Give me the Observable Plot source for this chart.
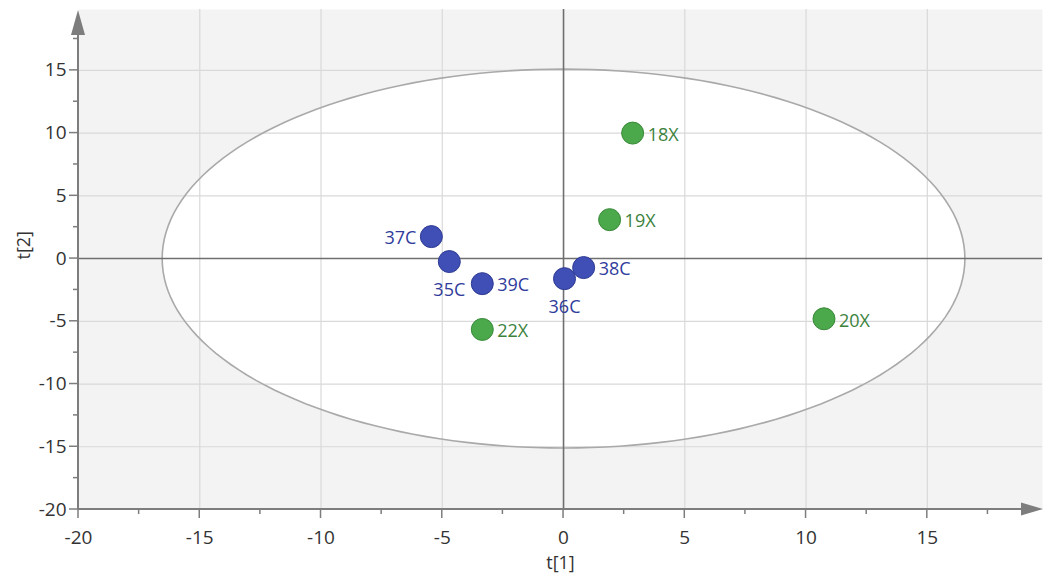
<!DOCTYPE html>
<html>
<head>
<meta charset="utf-8">
<script src="https://cdn.jsdelivr.net/npm/d3@7"></script>
<script src="https://cdn.jsdelivr.net/npm/@observablehq/plot@0.6"></script>
<style>
  html, body { margin: 0; padding: 0; background: #ffffff; }
  #chart svg { display: block; }
</style>
</head>
<body>
<div id="chart"></div>
<script>
// ---- data ----
const names = ["18X", "19X", "20X", "22X", "35C", "36C", "37C", "38C", "39C"];
const t1    = [2.85, 1.90, 10.74, -3.35, -4.71, 0.04, -5.45, 0.83, -3.35];
const t2    = [10.0, 3.10, -4.80, -5.65, -0.24, -1.60, 1.75, -0.72, -2.00];
const group = ["X", "X", "X", "X", "C", "C", "C", "C", "C"];
const xTicks = [-20, -15, -10, -5, 0, 5, 10, 15];
const yTicks = [-20, -15, -10, -5, 0, 5, 10, 15];
const xMinor = [-17.5, -12.5, -7.5, -2.5, 2.5, 7.5, 12.5, 17.5];
const yMinor = [-17.5, -12.5, -7.5, -2.5, 2.5, 7.5, 12.5, 17.5];
// Hotelling T2 ellipse semi-axes
const ellipseRx = 16.55;
const ellipseRy = 15.1;

// ---- styling / layout ----
const fillColor = {C: "#3f4fb6", X: "#4ba84b"};
const strokeColor = {C: "#2e3a92", X: "#3a8a3a"};
const textColor = {C: "#303c9c", X: "#3c823d"};
const labelSide = {"37C": "left", "35C": "below", "36C": "below"};
const FONT = "'Open Sans', 'Noto Sans', sans-serif";

const points = names.map((n, i) => ({name: n, t1: t1[i], t2: t2[i], group: group[i], side: labelSide[n] || "right"}));
const ellipse = d3.range(0, 361, 2).map(a => {
  const r = a * Math.PI / 180;
  return {x: ellipseRx * Math.cos(r), y: ellipseRy * Math.sin(r)};
});

function axesDecor(...args) {
  const scales = args.find(a => a && typeof a.x === "function" && typeof a.y === "function");
  const dims = args.find(a => a && typeof a.marginLeft === "number");
  const g = d3.create("svg:g");
  const x0 = dims.marginLeft, y0 = dims.height - dims.marginBottom;
  const col = "#7d7d7d";
  // axis lines
  g.append("line").attr("x1", x0).attr("x2", x0).attr("y1", y0).attr("y2", 33).attr("stroke", col).attr("stroke-width", 2);
  g.append("line").attr("x1", x0).attr("x2", dims.width - 20).attr("y1", y0).attr("y2", y0).attr("stroke", col).attr("stroke-width", 2);
  // arrows
  g.append("path").attr("d", `M${x0},10 L${x0 - 7},35 L${x0 + 7},35 Z`).attr("fill", col);
  g.append("path").attr("d", `M${dims.width},${y0} L${dims.width - 22},${y0 - 6.5} L${dims.width - 22},${y0 + 6.5} Z`).attr("fill", col);
  // ticks
  for (const v of xTicks) g.append("line").attr("x1", scales.x(v)).attr("x2", scales.x(v)).attr("y1", y0).attr("y2", y0 + 9).attr("stroke", col).attr("stroke-width", 1.5);
  for (const v of xMinor) g.append("line").attr("x1", scales.x(v)).attr("x2", scales.x(v)).attr("y1", y0).attr("y2", y0 + 5).attr("stroke", col).attr("stroke-width", 1.5);
  for (const v of yTicks) g.append("line").attr("y1", scales.y(v)).attr("y2", scales.y(v)).attr("x1", x0).attr("x2", x0 - 9).attr("stroke", col).attr("stroke-width", 1.5);
  for (const v of yMinor) g.append("line").attr("y1", scales.y(v)).attr("y2", scales.y(v)).attr("x1", x0).attr("x2", x0 - 5).attr("stroke", col).attr("stroke-width", 1.5);
  return g.node();
}

const chart = Plot.plot({
  width: 1043,
  height: 583,
  marginLeft: 78,
  marginRight: 1,
  marginTop: 9,
  marginBottom: 74,
  style: {fontFamily: FONT, fontSize: "19px", color: "#333333", background: "#ffffff", overflow: "visible"},
  x: {domain: [-20, 19.75], ticks: xTicks, tickSize: 0, tickPadding: 21, tickFormat: d => String(d), label: null},
  y: {domain: [-20, 19.85], ticks: yTicks, tickSize: 0, tickPadding: 12, tickFormat: d => String(d), label: null},
  marks: [
    Plot.frame({fill: "#f3f3f3", stroke: null}),
    Plot.line(ellipse, {x: "x", y: "y", fill: "#ffffff", stroke: "none", curve: "linear-closed"}),
    Plot.ruleX(xTicks.filter(v => v !== 0 && v !== -20), {stroke: "#d9d9d9", strokeWidth: 1.2}),
    Plot.ruleY(yTicks.filter(v => v !== 0 && v !== -20), {stroke: "#d9d9d9", strokeWidth: 1.2}),
    Plot.line(ellipse, {x: "x", y: "y", stroke: "#a9a9a9", strokeWidth: 1.6, curve: "linear-closed"}),
    Plot.ruleX([0], {stroke: "#6f6f6f", strokeWidth: 1.6}),
    Plot.ruleY([0], {stroke: "#6f6f6f", strokeWidth: 1.6}),
    axesDecor,
    Plot.dot(points, {x: "t1", y: "t2", r: 11, fill: d => fillColor[d.group], stroke: d => strokeColor[d.group], strokeWidth: 1}),
    Plot.text(points.filter(d => d.side === "right"), {x: "t1", y: "t2", text: "name", textAnchor: "start", dx: 15, dy: 2, fill: d => textColor[d.group], fontSize: 18, fontFamily: FONT}),
    Plot.text(points.filter(d => d.side === "left"), {x: "t1", y: "t2", text: "name", textAnchor: "end", dx: -15, dy: 2, fill: d => textColor[d.group], fontSize: 18, fontFamily: FONT}),
    Plot.text(points.filter(d => d.side === "below"), {x: "t1", y: "t2", text: "name", textAnchor: "middle", dy: 29, fill: d => textColor[d.group], fontSize: 18, fontFamily: FONT}),
    Plot.text(["t[1]"], {frameAnchor: "bottom", text: d => d, dy: 59, fontSize: 18, fill: "#333333", fontFamily: FONT}),
    Plot.text(["t[2]"], {frameAnchor: "left", text: d => d, dx: -54, rotate: -90, fontSize: 18, fill: "#333333", fontFamily: FONT})
  ]
});
document.getElementById("chart").appendChild(chart);
</script>
</body>
</html>
